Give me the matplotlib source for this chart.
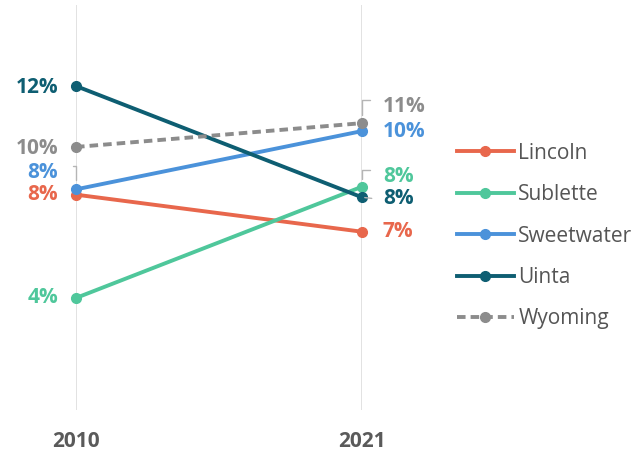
import matplotlib.pyplot as plt

years = [2010, 2021]
counties = ["Lincoln", "Sublette", "Sweetwater", "Uinta", "Wyoming"]
lincoln = [7.9, 6.5]
sublette = [4.0, 8.2]
sweetwater = [8.1, 10.3]
uinta = [12.0, 7.8]
wyoming = [9.7, 10.6]
labels_2010 = ["8%", "4%", "8%", "12%", "10%"]
labels_2021 = ["7%", "8%", "10%", "8%", "11%"]

colors = ["#e8674c", "#4fc79b", "#4b92da", "#0e5e72", "#8c8c8c"]
series = [lincoln, sublette, sweetwater, uinta, wyoming]

plt.rcParams['font.family'] = ['Open Sans', 'DejaVu Sans']

fig = plt.figure(figsize=(6.42, 4.54), dpi=100)
ax = fig.add_axes([76 / 642, 44 / 454, 286 / 642, 405 / 454])

for name, vals, c in zip(counties, series, colors):
    ls = "--" if name == "Wyoming" else "-"
    ax.plot(years, vals, color=c, lw=2.8, ls=ls, marker="o", ms=7,
            label=name, clip_on=False, zorder=3,
            dashes=(2.2, 1.3) if name == "Wyoming" else (None, None))

ax.set_xlim(2010, 2021)
ax.set_ylim(-0.23, 15.06)
for x in years:
    ax.axvline(x, color="#dddddd", lw=1.2, zorder=1)
for s in ax.spines.values():
    s.set_visible(False)
ax.set_yticks([])
ax.set_xticks(years)
ax.set_xticklabels([str(y) for y in years], fontsize=15, fontweight="bold",
                   color="#5a5a5a")
ax.tick_params(axis="x", length=0, pad=15)

# value labels, offsets in points to keep overlapping labels apart
off_2010 = [(0, 0), (0, 0), (0, 12), (0, -1), (0, -1)]
off_2021 = [(0, 0), (0, 7), (0, 0), (0, -1), (0, 12)]
for vals, c, lab, (dx, dy) in zip(series, colors, labels_2010, off_2010):
    ax.annotate(lab, (2010, vals[0]), xytext=(-13 + dx, dy), textcoords="offset points",
                ha="right", va="center", fontsize=15, fontweight="bold", color=c)
for vals, c, lab, (dx, dy) in zip(series, colors, labels_2021, off_2021):
    ax.annotate(lab, (2021, vals[1]), xytext=(15 + dx, dy), textcoords="offset points",
                ha="left", va="center", fontsize=15, fontweight="bold", color=c)

# small leader lines for shifted labels
lc = "#b5b5b5"
ax.annotate("", (2010, sweetwater[0] + 0.25), xytext=(-4, 12), textcoords="offset points",
            arrowprops=dict(arrowstyle="-", color=lc, lw=1,
                            connectionstyle="angle,angleA=180,angleB=90,rad=0"))
ax.annotate("", (2021, wyoming[1] + 0.2), xytext=(8, 13), textcoords="offset points",
            arrowprops=dict(arrowstyle="-", color=lc, lw=1,
                            connectionstyle="angle,angleA=0,angleB=90,rad=0"))
ax.annotate("", (2021, sublette[1] + 0.2), xytext=(8, 8), textcoords="offset points",
            arrowprops=dict(arrowstyle="-", color=lc, lw=1,
                            connectionstyle="angle,angleA=0,angleB=90,rad=0"))
ax.annotate("", (2021, uinta[1]), xytext=(9, -1), textcoords="offset points",
            arrowprops=dict(arrowstyle="-", color=lc, lw=1))

leg = fig.legend(loc="upper left", bbox_to_anchor=(438 / 642, 1 - 124 / 454),
                 frameon=False, fontsize=15, handlelength=2.75, handletextpad=0.2,
                 labelspacing=0.98, labelcolor="#555555")

fig.savefig("out.png", dpi=100)
